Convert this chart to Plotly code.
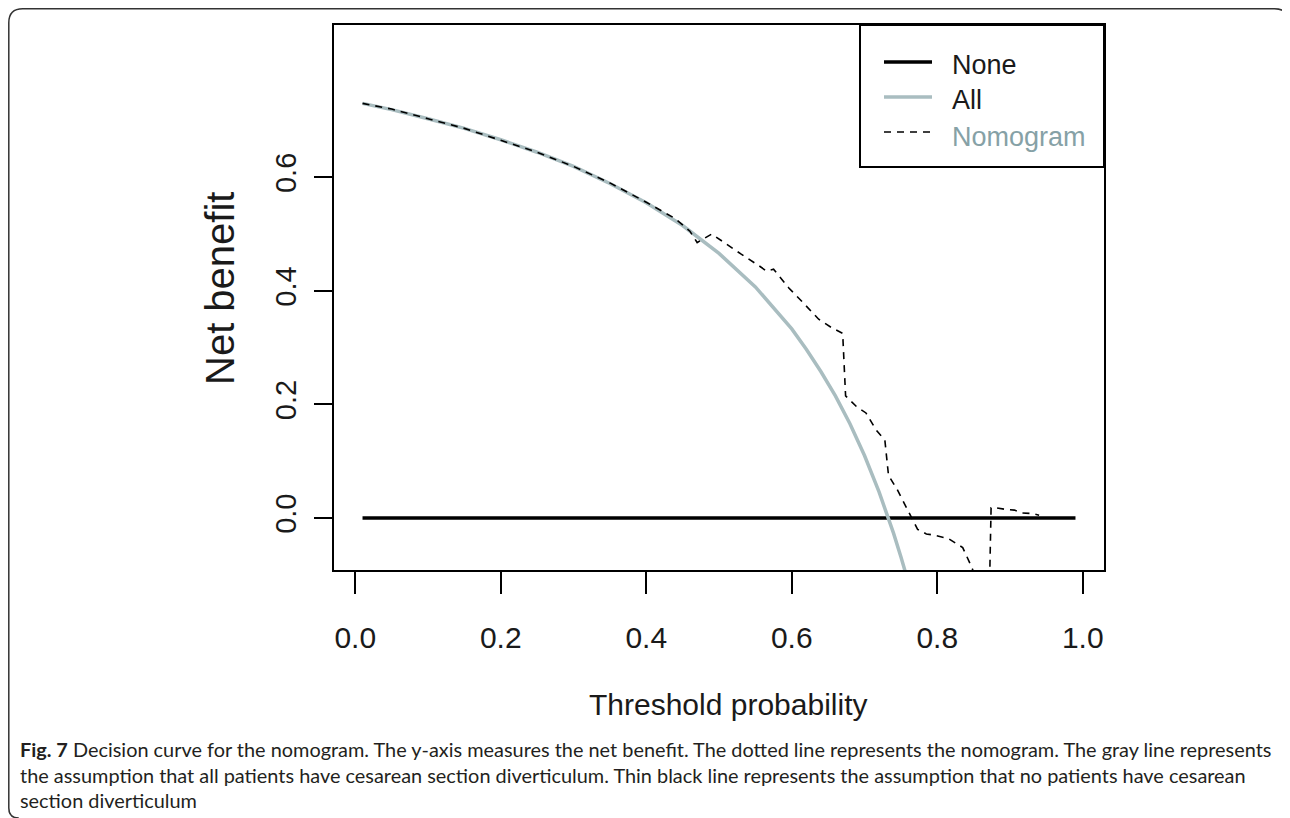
import plotly.graph_objects as go

# ---------------- data ----------------
none_t = [0.01, 0.99]
none_nb = [0.0, 0.0]

all_t = [0.01, 0.05, 0.10, 0.15, 0.20, 0.25, 0.30, 0.35, 0.40, 0.45, 0.50,
         0.55, 0.60, 0.62, 0.64, 0.66, 0.68, 0.70, 0.72, 0.73, 0.74, 0.75, 0.76]
all_nb = [0.730, 0.719, 0.703, 0.686, 0.666, 0.644, 0.619, 0.589, 0.555, 0.515, 0.466,
          0.407, 0.333, 0.297, 0.258, 0.215, 0.166, 0.110, 0.046, 0.011, -0.027, -0.068, -0.112]

nom_t = [0.01, 0.05, 0.10, 0.15, 0.20, 0.25, 0.30, 0.35, 0.40, 0.44, 0.46, 0.47,
         0.49, 0.51, 0.53, 0.554, 0.565, 0.575, 0.596, 0.615, 0.637, 0.655, 0.670,
         0.674, 0.690, 0.702, 0.716, 0.728, 0.733, 0.745, 0.755, 0.764, 0.773,
         0.785, 0.795, 0.815, 0.835, 0.845, 0.855, 0.872, 0.874, 0.881, 0.895,
         0.906, 0.917, 0.930, 0.940]
nom_nb = [0.730, 0.720, 0.703, 0.686, 0.665, 0.644, 0.619, 0.590, 0.556, 0.527, 0.505, 0.485,
          0.500, 0.482, 0.465, 0.445, 0.435, 0.438, 0.405, 0.380, 0.350, 0.335, 0.325,
          0.215, 0.195, 0.185, 0.155, 0.137, 0.075, 0.050, 0.025, 0.000, -0.020,
          -0.028, -0.030, -0.036, -0.052, -0.080, -0.110, -0.110, 0.018, 0.018, 0.015,
          0.014, 0.009, 0.008, 0.005]

x_ticks = [0.0, 0.2, 0.4, 0.6, 0.8, 1.0]
x_tick_text = ["0.0", "0.2", "0.4", "0.6", "0.8", "1.0"]
y_ticks = [0.0, 0.2, 0.4, 0.6]
y_tick_text = ["0.0", "0.2", "0.4", "0.6"]

legend_names = ["None", "All", "Nomogram"]

# ---------------- styling / layout ----------------
OFF = 8                                   # page body margin of the browser
W, H = 1290 - OFF, 818 - OFF
L, R, T, B = 334 - OFF, 1104 - OFF, 25 - OFF, 570 - OFF   # plot area in figure pixels
GRAY = "#a9bdc0"
AX_FONT = "Liberation Sans, Arial, sans-serif"
CAP_FONT = "Lato, Roboto, Open Sans, sans-serif"


def px(x):
    """screen x (reference picture) -> paper x"""
    return (x - OFF - L) / (R - L)


def py(y):
    """screen y (reference picture) -> paper y"""
    return (B - (y - OFF)) / (B - T)


fig = go.Figure()
fig.add_trace(go.Scatter(x=none_t, y=none_nb, mode="lines", name=legend_names[0],
                         line=dict(color="black", width=3.5)))
fig.add_trace(go.Scatter(x=all_t, y=all_nb, mode="lines", name=legend_names[1],
                         line=dict(color=GRAY, width=3.5)))
fig.add_trace(go.Scatter(x=nom_t, y=nom_nb, mode="lines", name=legend_names[2],
                         line=dict(color="black", width=1.6, dash="7px,6px")))

axis_common = dict(showgrid=False, zeroline=False, showline=True, linewidth=2,
                   linecolor="black", mirror=True, ticks="outside", tickwidth=2,
                   tickcolor="black")
fig.update_xaxes(range=[-0.0292, 1.0292], tickvals=x_ticks, ticktext=x_tick_text,
                 ticklen=22, ticklabelstandoff=18,
                 tickfont=dict(family=AX_FONT, size=30, color="#1a1a1a"), **axis_common)
fig.update_yaxes(range=[-0.0915, 0.868], tickvals=y_ticks, ticktext=y_tick_text,
                 ticklen=18, tickangle=-90, ticklabelstandoff=6,
                 tickfont=dict(family=AX_FONT, size=29, color="#1a1a1a"), **axis_common)

shapes = []
# legend box
shapes.append(dict(type="rect", xref="paper", yref="paper", x0=px(860), x1=px(1104),
                   y0=py(167), y1=py(25), line=dict(color="black", width=2),
                   fillcolor="white", layer="above"))
# legend samples
leg_line_y = [62, 97, 132]
leg_styles = [dict(color="black", width=3.5), dict(color=GRAY, width=3.5),
              dict(color="black", width=1.6, dash="7px,6px")]
for yy, st in zip(leg_line_y, leg_styles):
    shapes.append(dict(type="line", xref="paper", yref="paper", x0=px(884), x1=px(932),
                       y0=py(yy), y1=py(yy), line=st, layer="above"))
# outer figure frame (rounded)
fx0, fy0, fx1, fy1 = 8.8, 8.8, 1288.5, 818
frame = (f"M {px(fx1)},{py(fy0 + 14)} Q {px(fx1)},{py(fy0)} {px(fx1 - 14)},{py(fy0)} "
         f"L {px(fx0 + 14)},{py(fy0)} Q {px(fx0)},{py(fy0)} {px(fx0)},{py(fy0 + 14)} "
         f"L {px(fx0)},{py(fy1 - 10)} Q {px(fx0)},{py(fy1)} {px(fx0 + 10)},{py(fy1)}")
shapes.append(dict(type="path", xref="paper", yref="paper", path=frame,
                   line=dict(color="#333333", width=1.5)))

annotations = []
leg_text_y = [65, 100, 137]
leg_colors = ["#1a1a1a", "#1a1a1a", "#86a1a6"]
for name, yy, c in zip(legend_names, leg_text_y, leg_colors):
    annotations.append(dict(text=name, xref="paper", yref="paper", x=px(950), y=py(yy),
                            xanchor="left", yanchor="middle", showarrow=False,
                            font=dict(family=AX_FONT, size=27, color=c)))
# axis titles
annotations.append(dict(text="Threshold probability", xref="paper", yref="paper",
                        x=px(728), y=py(704), xanchor="center", yanchor="middle",
                        showarrow=False, font=dict(family=AX_FONT, size=30, color="#1a1a1a")))
annotations.append(dict(text="Net benefit", xref="paper", yref="paper",
                        x=px(220), y=py(289), xanchor="center", yanchor="middle",
                        textangle=-90, showarrow=False,
                        font=dict(family=AX_FONT, size=40, color="#1a1a1a")))
# caption
caption_lines = [
    "<b>Fig. 7</b> Decision curve for the nomogram. The y-axis measures the net benefit. "
    "The dotted line represents the nomogram. The gray line represents",
    "the assumption that all patients have cesarean section diverticulum. Thin black line "
    "represents the assumption that no patients have cesarean",
    "section diverticulum",
]
for line, yy in zip(caption_lines, [749, 775, 800]):
    annotations.append(dict(text=line, xref="paper", yref="paper", x=px(18), y=py(yy),
                            xanchor="left", yanchor="middle", showarrow=False,
                            font=dict(family=CAP_FONT, size=19.9, color="#231f20")))

fig.update_layout(width=W, height=H, autosize=False,
                  margin=dict(l=L, r=W - R, t=T, b=H - B, pad=0),
                  plot_bgcolor="white", paper_bgcolor="white", showlegend=False,
                  shapes=shapes, annotations=annotations)

fig.write_html("out.html")
